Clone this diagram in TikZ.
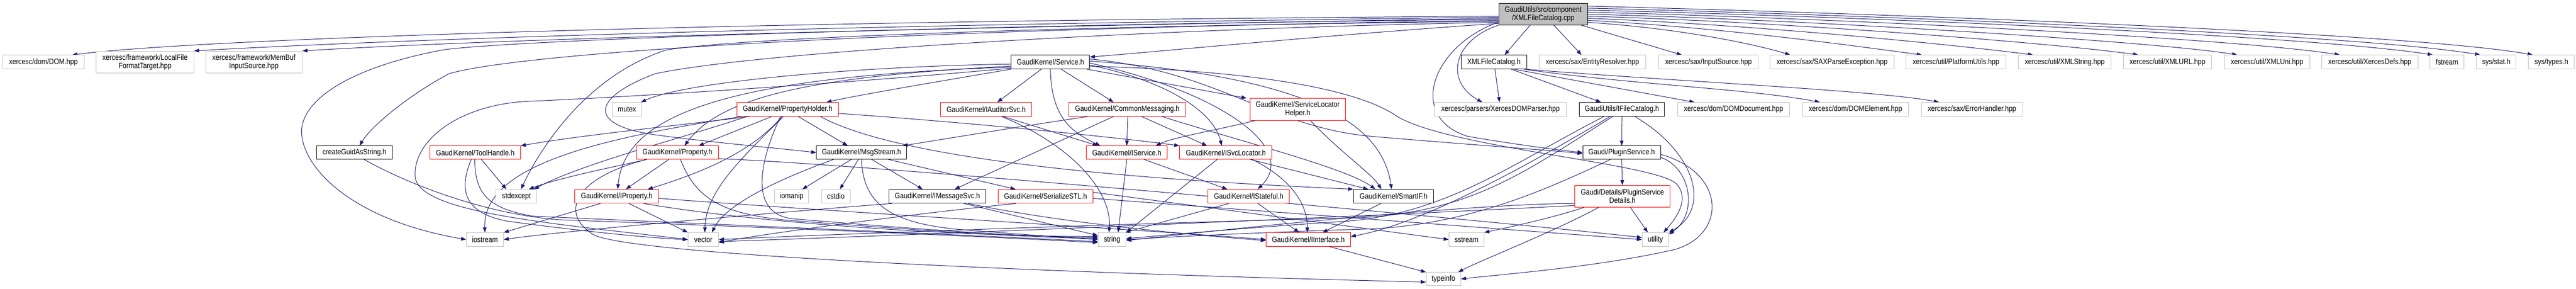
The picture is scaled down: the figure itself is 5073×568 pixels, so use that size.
\documentclass[tikz,border=0pt]{standalone}
\usepackage{fontspec}
\usetikzlibrary{arrows.meta}
\newfontfamily\gnodefont{Liberation Sans}[FakeStretch=0.87]
\newcommand\gnfont{\gnodefont\fontsize{7.6}{8}\selectfont}
\definecolor{edgec}{HTML}{191970}
\definecolor{gbord}{HTML}{BFBFBF}
\definecolor{mainfill}{HTML}{BFBFBF}
\pgfdeclarelayer{edgelayer}
\pgfsetlayers{edgelayer,main}
\tikzset{
 nb/.style={draw, line width=0.5pt, fill=white, inner sep=0pt, minimum height=13.5pt, align=center, font=\gnfont, text=black},
 gb/.style={nb, draw=gbord},
 bb/.style={nb, draw=black},
 rb/.style={nb, draw=red},
 mb/.style={nb, draw=black, fill=mainfill, minimum height=21pt},
 two/.style={minimum height=21.5pt},
 e/.style={draw=edgec, line width=0.5pt, -{Triangle[length=5pt,width=3.6pt]}},
}
\begin{document}
\begin{tikzpicture}[x=0.5pt,y=0.5pt]
\path[use as bounding box] (0,0) rectangle (5073,-568);
% row 0
\node[mb, minimum width=87.5pt] (m) at (3039,-28) {GaudiUtils/src/component\\/XMLFileCatalog.cpp};
% row 1
\node[gb, minimum width=80pt] (dom) at (85.5,-122) {xercesc/dom/DOM.hpp};
\node[gb, two, minimum width=96pt] (lft) at (285.6,-122) {xercesc/framework/LocalFile\\FormatTarget.hpp};
\node[gb, two, minimum width=95pt] (mbis) at (500,-122) {xercesc/framework/MemBuf\\InputSource.hpp};
\node[bb, minimum width=77pt] (svc) at (2068.6,-122) {GaudiKernel/Service.h};
\node[bb, minimum width=64.5pt] (xfch) at (2942,-122) {XMLFileCatalog.h};
\node[gb, minimum width=105pt] (er) at (3136,-122) {xercesc/sax/EntityResolver.hpp};
\node[gb, minimum width=98pt] (isrc) at (3364.5,-122) {xercesc/sax/InputSource.hpp};
\node[gb, minimum width=122pt] (sax) at (3608,-122) {xercesc/sax/SAXParseException.hpp};
\node[gb, minimum width=98.5pt] (pu) at (3852,-122) {xercesc/util/PlatformUtils.hpp};
\node[gb, minimum width=91.5pt] (xs) at (4066,-122) {xercesc/util/XMLString.hpp};
\node[gb, minimum width=87pt] (xurl) at (4268.5,-122) {xercesc/util/XMLURL.hpp};
\node[gb, minimum width=84pt] (xuni) at (4464.5,-122) {xercesc/util/XMLUni.hpp};
\node[gb, minimum width=94.5pt] (xdefs) at (4667,-122) {xercesc/util/XercesDefs.hpp};
\node[gb, minimum width=33.5pt] (fstr) at (4819,-122) {fstream};
\node[gb, minimum width=39pt] (stat) at (4916,-122) {sys/stat.h};
\node[gb, minimum width=45pt] (types) at (5024.5,-122) {sys/types.h};
% row 2
\node[gb, minimum width=29.25pt] (mutex) at (1234.7,-215) {mutex};
\node[rb, minimum width=100pt] (ph) at (1551,-215) {GaudiKernel/PropertyHolder.h};
\node[rb, minimum width=89.5pt] (iaud) at (1942,-215) {GaudiKernel/IAuditorSvc.h};
\node[rb, minimum width=115.5pt] (cm) at (2220,-215) {GaudiKernel/CommonMessaging.h};
\node[rb, two, minimum width=94pt] (slh) at (2555.5,-215) {GaudiKernel/ServiceLocator\\Helper.h};
\node[gb, minimum width=129.5pt] (xdp) at (2955,-215) {xercesc/parsers/XercesDOMParser.hpp};
\node[bb, minimum width=84pt] (ifc) at (3194,-215) {GaudiUtils/IFileCatalog.h};
\node[gb, minimum width=110.5pt] (domdoc) at (3414,-215) {xercesc/dom/DOMDocument.hpp};
\node[gb, minimum width=104.5pt] (domel) at (3654,-215) {xercesc/dom/DOMElement.hpp};
\node[gb, minimum width=100pt] (eh) at (3883.5,-215) {xercesc/sax/ErrorHandler.hpp};
% row 3
\node[bb, minimum width=74.5pt, minimum height=13pt] (guid) at (698,-300) {createGuidAsString.h};
\node[rb, minimum width=89pt, minimum height=13pt] (th) at (936,-300) {GaudiKernel/ToolHandle.h};
\node[rb, minimum width=80.5pt, minimum height=13pt] (prop) at (1334,-300) {GaudiKernel/Property.h};
\node[bb, minimum width=88.5pt, minimum height=13pt] (msg) at (1696.5,-300) {GaudiKernel/MsgStream.h};
\node[rb, minimum width=79.5pt, minimum height=13pt] (isvc) at (2219,-300) {GaudiKernel/IService.h};
\node[rb, minimum width=91pt, minimum height=13pt] (isl) at (2414,-300) {GaudiKernel/ISvcLocator.h};
\node[bb, minimum width=76.5pt, minimum height=13pt] (plug) at (3193.6,-300) {Gaudi/PluginService.h};
% row 4
\node[gb, minimum width=40pt] (stdex) at (1017,-386) {stdexcept};
\node[rb, minimum width=82.5pt] (iprop) at (1214.5,-386) {GaudiKernel/IProperty.h};
\node[gb, minimum width=33.5pt] (iomanip) at (1559,-386) {iomanip};
\node[gb, minimum width=28.5pt] (cstdio) at (1646,-386) {cstdio};
\node[bb, minimum width=95pt] (imsg) at (1846,-386) {GaudiKernel/IMessageSvc.h};
\node[rb, minimum width=93.5pt] (ser) at (2059,-386) {GaudiKernel/SerializeSTL.h};
\node[rb, minimum width=80pt] (istat) at (2459,-386) {GaudiKernel/IStateful.h};
\node[bb, minimum width=79pt] (smart) at (2744.5,-386) {GaudiKernel/SmartIF.h};
\node[rb, two, minimum width=93.5pt] (psd) at (3195,-386) {Gaudi/Details/PluginService\\Details.h};
% row 5
\node[gb, minimum width=36.5pt] (iostr) at (955,-471) {iostream};
\node[gb, minimum width=30pt] (vec) at (1385,-471) {vector};
\node[gb, minimum width=27.5pt] (str) at (2190,-471) {string};
\node[rb, minimum width=83pt] (iint) at (2576.5,-471) {GaudiKernel/IInterface.h};
\node[gb, minimum width=34.5pt] (sstr) at (2888,-471) {sstream};
\node[gb, minimum width=26pt] (util) at (3260,-471) {utility};
% row 6
\node[gb, minimum width=34pt, minimum height=13pt] (tinfo) at (2842.6,-548.5) {typeinfo};

\begin{pgfonlayer}{edgelayer}
\fill[white] (0,0) rectangle (5073,-568);
% main -> left
\draw[e] ([yshift=-2pt]m.west) .. controls (1500,-40) and (400,-75) .. ([xshift=-12pt]dom.north east);
\draw[e] ([yshift=-3pt]m.west) .. controls (1500,-50) and (700,-82) .. (lft.north east);
\draw[e] ([yshift=-4pt]m.west) .. controls (1500,-60) and (900,-82) .. (mbis.north east);
\draw[e] ([yshift=-5pt]m.west) .. controls (1800,-50) and (1000,-80) .. (873,-98) .. controls (700,-130) and (600,-190) .. (594,-254) .. controls (590,-320) and (680,-430) .. (iostr.west);
\draw[e] ([yshift=-6pt]m.west) .. controls (1600,-60) and (1000,-110) .. (884,-145) .. controls (800,-190) and (730,-250) .. ([xshift=5pt]guid.north);
\draw[e] ([yshift=-7pt]m.west) .. controls (2200,-50) and (1500,-70) .. (1313,-98) .. controls (1150,-150) and (1060,-300) .. ([xshift=4.5pt]stdex.north);
\draw[e] ([yshift=-8pt]m.west) .. controls (2300,-55) and (1500,-100) .. (1290,-145) .. controls (1170,-190) and (1150,-245) .. (1290,-265) .. controls (1400,-280) and (1520,-290) .. (msg.west);
\draw[e] ([yshift=-9pt]m.west) .. controls (2600,-70) and (2300,-100) .. ([yshift=5pt]svc.east);
\draw[e] (m.south west) .. controls (2860,-80) and (2845,-160) .. ([xshift=47pt]xdp.north west);
\draw[e] ([yshift=3pt]m.south west) .. controls (2820,-90) and (2770,-230) .. (2890,-268) .. controls (2990,-285) and (3070,-295) .. (plug.west);
% main -> right
\draw[e] (m.220) -- ([xshift=-22pt]xfch.north east);
\draw[e] ([xshift=10.5pt]m.south) -- ([xshift=42pt]er.north west);
\draw[e] ([xshift=-6.5pt]m.south east) -- ([xshift=23pt]isrc.north west);
\draw[e] ([yshift=-8pt]m.east) .. controls (3300,-55) and (3450,-85) .. ([xshift=20pt]sax.north west);
\draw[e] ([yshift=-6pt]m.east) .. controls (3400,-55) and (3650,-90) .. ([xshift=16pt]pu.north west);
\draw[e] ([yshift=-4pt]m.east) .. controls (3450,-48) and (3850,-88) .. ([xshift=15pt]xs.north west);
\draw[e] ([yshift=-2pt]m.east) .. controls (3500,-42) and (4050,-85) .. ([xshift=15pt]xurl.north west);
\draw[e] (m.east) .. controls (3550,-38) and (4250,-82) .. ([xshift=13pt]xuni.north west);
\draw[e] ([yshift=2pt]m.east) .. controls (3600,-35) and (4400,-75) .. ([xshift=18pt]xdefs.north west);
\draw[e] ([yshift=4pt]m.east) .. controls (3650,-32) and (4550,-70) .. ([xshift=3pt]fstr.north west);
\draw[e] ([yshift=6pt]m.east) .. controls (3700,-30) and (4650,-68) .. ([xshift=4pt]stat.north west);
\draw[e] ([yshift=8pt]m.east) .. controls (3750,-28) and (4750,-65) .. ([xshift=4.5pt]types.north west);
% XMLFileCatalog.h
\draw[e] ([xshift=1pt]xfch.south) -- ([xshift=-1pt]xdp.north);
\draw[e] ([xshift=17pt]xfch.south) -- ([xshift=-20.5pt]ifc.north);
\draw[e] ([xshift=19.5pt]xfch.south) -- ([xshift=-38.5pt]domdoc.north);
\draw[e] ([xshift=-3pt]xfch.south east) .. controls (3200,-165) and (3450,-175) .. ([xshift=-35pt]domel.north);
\draw[e] ([xshift=-2pt]xfch.south east) .. controls (3300,-160) and (3700,-178) .. ([xshift=-32.5pt]eh.north);
% IFileCatalog
\draw[e] (ifc.south) -- (plug.north);
\draw[e] ([xshift=-29.5pt]ifc.south east) .. controls (3340,-300) and (3370,-410) .. (util.north east);
\draw[e] ([xshift=-17.5pt]ifc.south) .. controls (2980,-320) and (2850,-420) .. (2650,-435) .. controls (2450,-448) and (2300,-462) .. ([yshift=1pt]str.east);
\draw[e] ([xshift=-9pt]ifc.south) .. controls (3000,-340) and (2900,-415) .. (2680,-428) .. controls (2200,-440) and (1600,-462) .. (vec.east);
\draw[e] ([xshift=-11.5pt]ifc.south) .. controls (3000,-330) and (2800,-440) .. ([yshift=3pt]iint.east);
% PluginService
\draw[e] (plug.south) -- (psd.north);
\draw[e] ([yshift=2pt]plug.south east) .. controls (3330,-330) and (3345,-420) .. ([yshift=-2pt]util.north east);
\draw[e] ([yshift=5pt]plug.south east) .. controls (3400,-340) and (3400,-460) .. (3300,-490) .. controls (3150,-525) and (2950,-540) .. (tinfo.east);
\draw[e] ([xshift=-11pt]plug.south) .. controls (3050,-370) and (2900,-440) .. (2700,-450) .. controls (2450,-458) and (2300,-466) .. (str.east);
% PluginServiceDetails
\draw[e] ([xshift=8pt]psd.south) -- ([xshift=-7.5pt]util.north);
\draw[e] ([xshift=-38pt]psd.south) .. controls (3050,-430) and (2980,-445) .. (sstr.north east);
\draw[e] ([xshift=-23.5pt]psd.south) .. controls (3050,-460) and (2920,-510) .. ([xshift=14.5pt]tinfo.north);
\draw[e] ([yshift=-7pt]psd.west) .. controls (2950,-400) and (2600,-430) .. ([yshift=-1pt]str.east);
\draw[e] ([yshift=-9pt]psd.west) .. controls (2800,-420) and (2000,-455) .. ([yshift=-2pt]vec.east);
% SerializeSTL
\draw[e] ([yshift=4pt]ser.east) -- (sstr.west);
\draw[e] ([yshift=-2pt]ser.east) -- (util.west);
\draw[e] ([xshift=-29pt]ser.south) .. controls (1800,-420) and (1500,-460) .. ([yshift=-3pt]vec.east);
% IInterface
\draw[e] ([xshift=21pt]iint.south) -- (tinfo.north west);
% Property
\draw[e] ([xshift=-30.5pt]prop.south) .. controls (1130,-350) and (1100,-420) .. (1170,-462) .. controls (1250,-500) and (2000,-535) .. ([yshift=-3pt]tinfo.west);
\draw[e] ([yshift=-6pt]prop.east) .. controls (1700,-322) and (2900,-430) .. ([yshift=2pt]util.west);
\draw[e] ([xshift=-8.5pt]prop.south) -- ([xshift=9pt]iprop.north);
\draw[e] ([xshift=-30pt]prop.south) .. controls (1200,-330) and (1100,-350) .. ([xshift=-8pt]stdex.north east);
\draw[e] ([xshift=3pt]prop.south) .. controls (1370,-390) and (1420,-420) .. (1550,-433) .. controls (1800,-452) and (2000,-466) .. ([yshift=1pt]str.west);
% IProperty
\draw[e] ([xshift=-16pt]iprop.south) -- (iostr.north east);
\draw[e] ([xshift=12pt]iprop.south) -- (vec.north west);
\draw[e] ([xshift=-15pt]iprop.south east) .. controls (1500,-440) and (1900,-465) .. ([yshift=3pt]str.west);
\draw[e] ([yshift=-2pt]iprop.east) .. controls (1700,-420) and (2300,-455) .. (iint.west);
% MsgStream
\draw[e] ([xshift=-10pt]msg.south) -- ([xshift=10.5pt]iomanip.north);
\draw[e] ([xshift=-3pt]msg.south) -- ([xshift=4pt]cstdio.north);
\draw[e] ([xshift=10pt]msg.south) -- ([xshift=-14.5pt]imsg.north);
\draw[e] ([xshift=26.5pt]msg.south) -- ([xshift=-29.5pt]ser.north);
\draw[e] ([xshift=-27.5pt]msg.south) .. controls (1540,-350) and (1430,-400) .. ([xshift=8.5pt]vec.north);
\draw[e] (msg.south) .. controls (1700,-400) and (1750,-440) .. (1900,-452) .. controls (2000,-460) and (2100,-467) .. (str.west);
% CommonMessaging
\draw[e] ([xshift=0.5pt]cm.south) -- (isvc.north);
\draw[e] ([xshift=14pt]cm.south) -- ([xshift=-18.5pt]isl.north);
\draw[e] ([xshift=-13.5pt]cm.south) -- ([xshift=17pt]imsg.north);
\draw[e] ([xshift=19.5pt]cm.south west) .. controls (2000,-250) and (1850,-275) .. ([xshift=-4pt]msg.north east);
\draw[e] ([xshift=-24pt]cm.south east) .. controls (2450,-280) and (2650,-330) .. ([xshift=-18pt]smart.north);
% IAuditorSvc
\draw[e] ([xshift=16.5pt]iaud.south) -- ([xshift=11.5pt]isvc.north west);
\draw[e] ([xshift=15pt]iaud.south) .. controls (2100,-280) and (2190,-370) .. ([xshift=-3pt]str.north);
% Service
\draw[e] ([xshift=-9pt]svc.south) -- ([xshift=11pt]iaud.north);
\draw[e] ([xshift=10.5pt]svc.south) -- ([xshift=-13.5pt]cm.north);
\draw[e] (svc.south) .. controls (2070,-230) and (2110,-260) .. ([xshift=14pt]isvc.north west);
\draw[e] ([yshift=-3pt]svc.east) .. controls (2300,-160) and (2390,-220) .. ([xshift=-4pt]isl.north);
\draw[e] ([xshift=-3pt]svc.south east) -- ([xshift=-3pt]slh.north west);
\draw[e] ([yshift=-1pt]svc.east) .. controls (2400,-180) and (2560,-290) .. ([xshift=9pt]istat.north);
\draw[e] ([yshift=1pt]svc.east) .. controls (2550,-150) and (2720,-230) .. ([xshift=-2pt]smart.north);
\draw[e] ([yshift=3pt]svc.east) .. controls (2400,-140) and (2500,-250) .. (2700,-268) .. controls (2900,-285) and (3050,-295) .. ([yshift=-1pt]plug.west);
\draw[e] ([yshift=-4pt]svc.east) .. controls (2500,-140) and (2680,-180) .. (2750,-228) .. controls (2850,-290) and (3250,-320) .. (3300,-360) .. controls (3330,-390) and (3300,-430) .. ([xshift=8pt]util.north);
\draw[e] (svc.south west) .. controls (1850,-160) and (1700,-185) .. ([xshift=-12pt]ph.north east);
\draw[e] ([yshift=-2pt]svc.west) .. controls (1700,-130) and (1350,-160) .. ([xshift=-1pt]mutex.north east);
\draw[e] ([yshift=-4pt]svc.west) .. controls (1600,-150) and (1420,-190) .. ([xshift=7pt]prop.north);
\draw[e] ([yshift=-5pt]svc.west) .. controls (1450,-150) and (1230,-220) .. ([xshift=1pt]iprop.north);
\draw[e] ([yshift=-6pt]svc.west) .. controls (1600,-170) and (1150,-195) .. (1043,-199) .. controls (900,-205) and (810,-280) .. (818,-350) .. controls (830,-420) and (1100,-440) .. (vec.west);
% PropertyHolder
\draw[e] ([xshift=13pt]ph.south west) .. controls (1350,-245) and (1150,-265) .. (th.north east);
\draw[e] ([xshift=-15.5pt]ph.south) -- ([xshift=21pt]prop.north);
\draw[e] ([xshift=-5.5pt]ph.south) .. controls (1480,-300) and (1380,-340) .. ([xshift=30.5pt]iprop.north);
\draw[e] ([xshift=10.5pt]ph.south) -- ([xshift=-13.5pt]msg.north);
\draw[e] ([xshift=-4pt]ph.south) .. controls (1450,-320) and (1390,-380) .. ([xshift=1.5pt]vec.north);
\draw[e] ([xshift=-7pt]ph.south) .. controls (1490,-330) and (1480,-420) .. (1560,-430) .. controls (1800,-450) and (2000,-465) .. ([yshift=2pt]str.west);
\draw[e] ([xshift=10pt]ph.south west) .. controls (1350,-270) and (1150,-320) .. ([xshift=-3pt]stdex.north east);
\draw[e] ([xshift=5pt]ph.south west) .. controls (1200,-270) and (950,-320) .. (iostr.north);
\draw[e] ([yshift=-4pt]ph.east) .. controls (1900,-240) and (2200,-270) .. (isl.north west);
\draw[e] ([xshift=-18pt]ph.south east) .. controls (1800,-330) and (2400,-360) .. (smart.north west);
% ToolHandle
\draw[e] ([xshift=6pt]th.south) -- ([xshift=-10pt]stdex.north);
\draw[e] ([xshift=-4pt]th.south) .. controls (900,-380) and (920,-420) .. (1000,-435) .. controls (1150,-455) and (1280,-468) .. (vec.west);
\draw[e] ([xshift=-0.5pt]th.south) .. controls (935,-380) and (960,-410) .. (1050,-425) .. controls (1500,-445) and (1900,-462) .. ([yshift=-2pt]str.west);
% createGuidAsString
\draw[e] ([xshift=9.5pt]guid.south) .. controls (800,-360) and (950,-420) .. (1100,-432) .. controls (1600,-450) and (2000,-468) .. ([yshift=-3pt]str.west);
% IService
\draw[e] (isvc.south) -- ([xshift=6pt]str.north);
\draw[e] ([xshift=17pt]isvc.south) -- ([xshift=-21pt]istat.north);
% ISvcLocator
\draw[e] ([xshift=-8.5pt]isl.south) -- (str.north east);
\draw[e] ([xshift=24pt]isl.south) -- ([xshift=-25pt]smart.north);
\draw[e] ([xshift=26pt]isl.south) .. controls (2540,-350) and (2575,-400) .. ([xshift=-1pt]iint.north);
% ServiceLocatorHelper
\draw[e] ([xshift=5.5pt]slh.south west) .. controls (2400,-255) and (2310,-270) .. ([xshift=28.5pt]isvc.north);
\draw[e] ([xshift=12.5pt]slh.south) .. controls (2640,-300) and (2700,-340) .. ([xshift=-12pt]smart.north);
% IStateful
\draw[e] ([xshift=9pt]istat.south) -- ([xshift=-9pt]iint.north);
\draw[e] ([xshift=-19.5pt]istat.south) -- ([xshift=-1pt]str.north east);
% SmartIF
\draw[e] ([xshift=-12.5pt]smart.south) -- ([xshift=14pt]iint.north);
% IMessageSvc
\draw[e] ([xshift=26pt]imsg.south) -- ([yshift=4pt]str.west);
\draw[e] ([xshift=3pt]imsg.south west) .. controls (1500,-420) and (1100,-455) .. (iostr.east);
\draw[e] ([xshift=30pt]imsg.south) .. controls (2100,-440) and (2350,-462) .. ([yshift=-1pt]iint.west);
\end{pgfonlayer}
\end{tikzpicture}
\end{document}
